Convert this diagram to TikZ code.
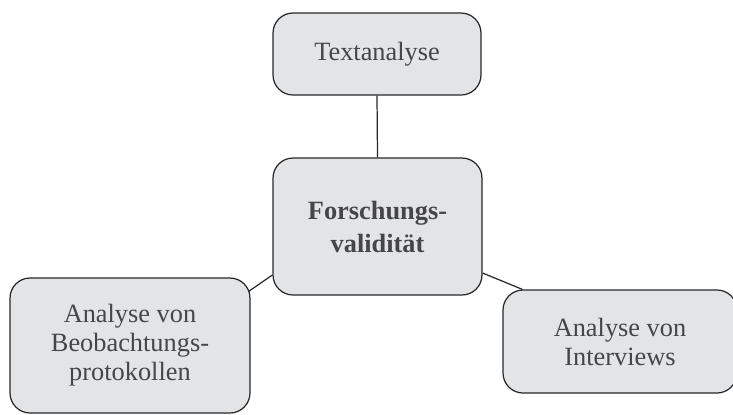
\documentclass[tikz,border=0pt]{standalone}
\usepackage{fontspec}
\setmainfont{Liberation Serif}
\usetikzlibrary{positioning,calc}
\definecolor{boxfill}{RGB}{227,228,230}
\definecolor{boxtext}{RGB}{70,70,72}
\definecolor{boxline}{RGB}{40,40,40}
\tikzset{
  topicbox/.style={draw=boxline, line width=0.7pt, fill=boxfill, rounded corners=0.4cm,
    text=boxtext, align=center, inner sep=0pt, font=\fontsize{15}{16.5}\selectfont},
  corebox/.style={topicbox, font=\fontsize{15}{18.8}\selectfont\bfseries},
  joinline/.style={draw=boxline, line width=0.7pt}
}
\begin{document}
\begin{tikzpicture}[x=0.02cm,y=-0.02cm]
% \clip (0,0) rectangle (733,414);
\useasboundingbox (0,0) rectangle (733,414);

% Drawing box tex
\node [topicbox, minimum width=4.16cm, minimum height=1.64cm] (tex) at (377,54) {Textanalyse};

% Drawing box mid
\node [corebox, minimum width=4.18cm, minimum height=2.74cm] (mid) at (377.5,226.5) {Forschungs-\\validität};

% Drawing box lft
\node [topicbox, minimum width=4.8cm, minimum height=2.7cm] (lft) at (130,345.5) {Analyse von\\Beobachtungs-\\protokollen};

% Drawing box rgt
\node [topicbox, minimum width=4.68cm, minimum height=2.06cm] (rgt) at (620,341.5) {Analyse von\\Interviews};

% Drawing segment tex mid
\draw [joinline] (tex.south) -- (mid.north);

% Drawing segment mid lft
\draw [joinline] ($(mid.west)+(0,48.5)$) -- ($(lft.north east)+(-2,14)$);

% Drawing segment mid rgt
\draw [joinline] ($(mid.east)+(0,46.5)$) -- ($(rgt.north west)+(20,0)$);
\end{tikzpicture}
\end{document}
